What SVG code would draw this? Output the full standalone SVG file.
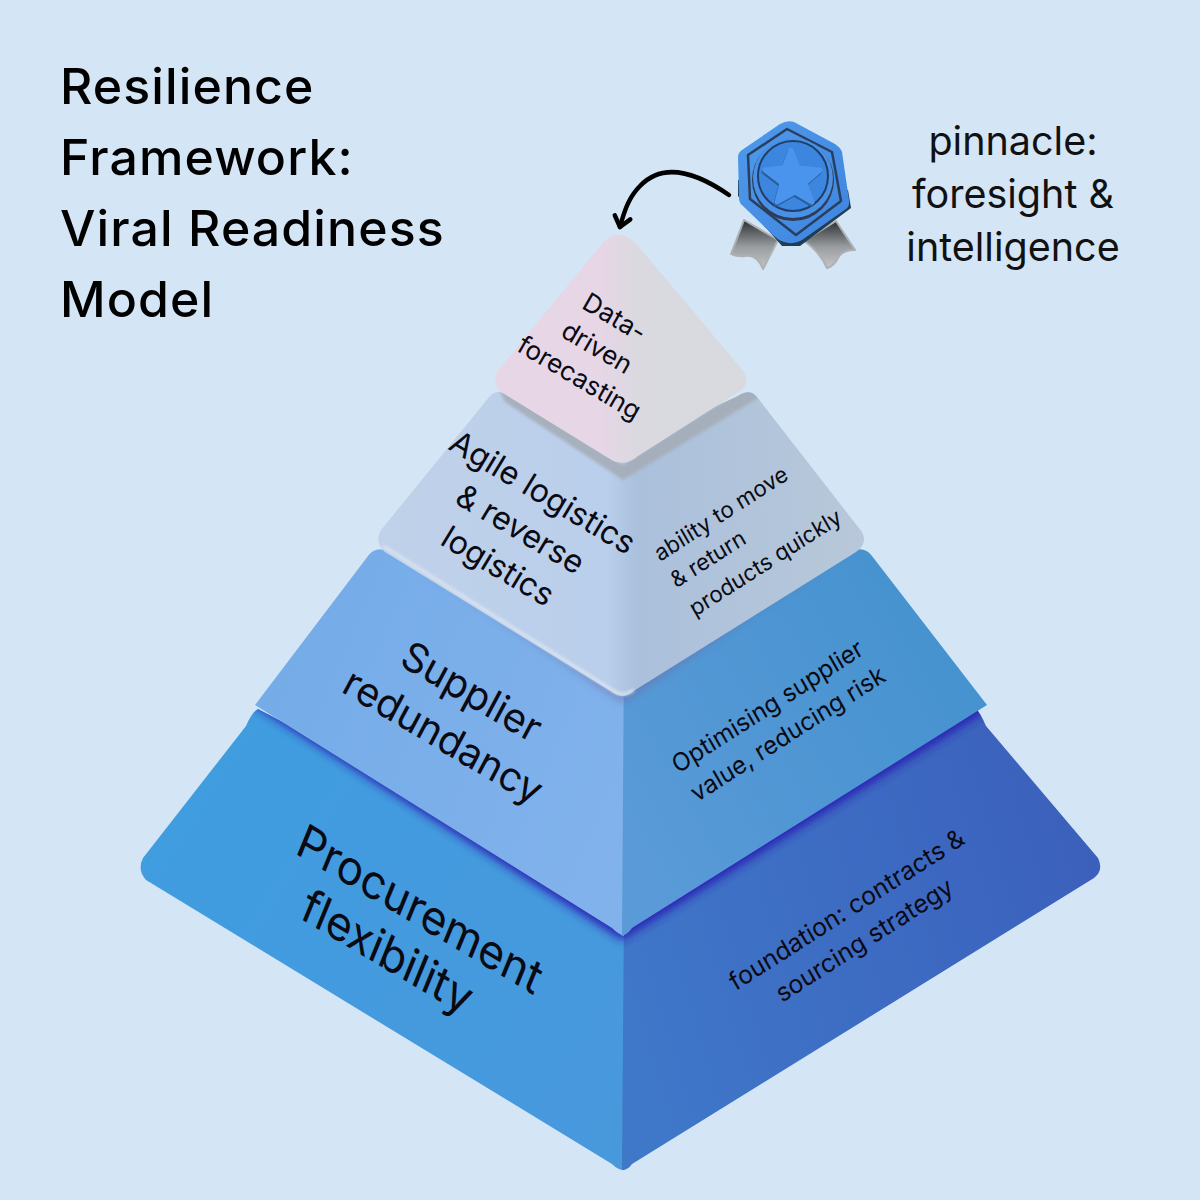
<svg xmlns="http://www.w3.org/2000/svg" width="1200" height="1200" viewBox="0 0 1200 1200">
<style>
text{font-family:"Inter","Liberation Sans",sans-serif;fill:#0a0a14}
.t{font-size:50px;font-weight:500;fill:#000;letter-spacing:1.1px}
.p{font-size:39.5px;text-anchor:middle;fill:#111}
.m{text-anchor:middle}
.edge{fill:none;stroke:#000;stroke-width:4.5;stroke-linecap:round;stroke-linejoin:round}
</style>
<defs>
<linearGradient id="l1L" gradientUnits="userSpaceOnUse" x1="141" y1="800" x2="625" y2="1100"><stop offset="0" stop-color="#3f9de0"/><stop offset="1" stop-color="#4898dc"/></linearGradient>
<linearGradient id="l1R" gradientUnits="userSpaceOnUse" x1="625" y1="1000" x2="1100" y2="860"><stop offset="0" stop-color="#3f77c9"/><stop offset="1" stop-color="#3b60bc"/></linearGradient>
<linearGradient id="l3L" gradientUnits="userSpaceOnUse" x1="255" y1="680" x2="625" y2="840"><stop offset="0" stop-color="#74ace8"/><stop offset="1" stop-color="#82b2ec"/></linearGradient>
<linearGradient id="l3R" gradientUnits="userSpaceOnUse" x1="625" y1="850" x2="985" y2="650"><stop offset="0" stop-color="#5a9ad8"/><stop offset="1" stop-color="#4492cf"/></linearGradient>
<linearGradient id="l2" gradientUnits="userSpaceOnUse" x1="378" y1="0" x2="865" y2="0"><stop offset="0" stop-color="#c0d1e9"/><stop offset=".47" stop-color="#bacfec"/><stop offset=".53" stop-color="#abc0dc"/><stop offset="1" stop-color="#b8c8d9"/></linearGradient>
<linearGradient id="l4" gradientUnits="userSpaceOnUse" x1="495" y1="0" x2="747" y2="0"><stop offset="0" stop-color="#e8d6e6"/><stop offset=".42" stop-color="#e6d6e6"/><stop offset=".58" stop-color="#d9d9df"/><stop offset="1" stop-color="#d8dade"/></linearGradient>
<linearGradient id="rib" x1="0" y1="0" x2="0" y2="1"><stop offset="0" stop-color="#2c2f33"/><stop offset="0.55" stop-color="#9a9da0"/><stop offset="1" stop-color="#c4c6c8"/></linearGradient>
<linearGradient id="hex" x1="0" y1="0" x2="1" y2="1"><stop offset="0" stop-color="#4f9aea"/><stop offset="1" stop-color="#3f84e0"/></linearGradient>
<filter id="b6" x="-10%" y="-10%" width="120%" height="120%"><feGaussianBlur stdDeviation="5"/></filter>
<filter id="b1" x="-10%" y="-10%" width="120%" height="120%"><feGaussianBlur stdDeviation="1.5"/></filter>
<clipPath id="c1"><path d="M246,726 Q252,712 258,709 L624,900 L975,708 Q980,712 986,726 L1098,858 Q1104,870 1094,878 L632,1164 Q622,1174 612,1164 L146,880 Q137,870 143,858 Z"/></clipPath>
<clipPath id="c3"><path d="M255,705 L368,556 Q376,545 390,552 L620,650 L850,552 Q864,545 872,556 L987,705 L632,928 Q622,938 612,928 Z"/></clipPath>
<clipPath id="c2"><path d="M381,530 L490,396 Q497,388 510,396 L622,450 L738,396 Q750,388 757,397 L862,532 Q868,544 856,552 L632,692 Q623,700 612,692 L385,552 Q374,542 381,530 Z"/></clipPath>
<marker id="hd" markerUnits="userSpaceOnUse" markerWidth="24" markerHeight="24" refX="13" refY="12" orient="auto"><path d="M3,4 L13,12 L3,20" fill="none" stroke="#000" stroke-width="4.5" stroke-linecap="round" stroke-linejoin="round"/></marker>
</defs>
<rect width="1200" height="1200" fill="#d4e5f5"/>

<g id="title"><text class="t" x="60" y="104">Resilience</text><text class="t" x="60" y="175">Framework:</text><text class="t" x="60" y="246">Viral Readiness</text><text class="t" x="60" y="317">Model</text></g>

<g id="layer-procurement">
<path fill="url(#l1L)" d="M246,726 Q252,712 258,709 L624,900 L624,1170 Q618,1170 612,1164 L146,880 Q137,870 143,858 Z"/>
<path fill="url(#l1R)" d="M624,900 L975,708 Q980,712 986,726 L1098,858 Q1104,870 1094,878 L632,1164 Q628,1170 622,1170 Z"/>
<g clip-path="url(#c1)"><path fill="#2a22b4" filter="url(#b6)" d="M255,706 L622,940 L985,712 L985,690 L255,690 Z"/></g>
<g transform="matrix(.86 .51 -.38 .925 414 924)"><text class="m" font-size="46">Procurement</text><text class="m" font-size="46" x="-14" y="54">flexibility</text></g>
<g transform="matrix(.84 -.54 .5 .87 851 917)"><text class="m" font-size="25">foundation: contracts &amp;</text><text class="m" font-size="25" y="35">sourcing strategy</text></g>
</g>

<g id="layer-supplier">
<path fill="url(#l3L)" d="M255,705 L368,556 Q376,545 390,552 L624,650 L624,936 Q618,934 612,928 Z"/>
<path fill="url(#l3R)" d="M624,650 L850,552 Q864,545 872,556 L987,705 L632,928 Q628,934 622,936 Z"/>
<g clip-path="url(#c3)"><path fill="#6d6fa8" opacity=".7" filter="url(#b6)" d="M381,538 L623,702 L862,538 L862,520 L381,520 Z"/></g>
<g transform="matrix(.86 .51 -.47 .88 465 704)"><text class="m" font-size="40">Supplier</text><text class="m" font-size="40" x="-4" y="53">redundancy</text></g>
<g transform="matrix(.84 -.54 .5 .87 678 774)"><text font-size="24.5">Optimising supplier</text><text font-size="24.5" x="2" y="34">value, reducing risk</text></g>
</g>

<g id="layer-agile">
<path fill="url(#l2)" d="M381,530 L490,396 Q497,388 510,396 L622,450 L738,396 Q750,388 757,397 L862,532 Q868,544 856,552 L632,692 Q623,700 612,692 L385,552 Q374,542 381,530 Z"/>
<path fill="none" stroke="#e6ecf3" stroke-width="3" opacity=".75" filter="url(#b1)" d="M383,546 L612,690 Q623,698 634,690"/>
<g clip-path="url(#c2)"><path fill="#a4abb5" opacity=".85" filter="url(#b1)" d="M497,384 L623,465 L750,384 L758,398 L623,480 L505,402 Z"/></g>
<g transform="matrix(.86 .51 -.52 .855 537 502)"><text class="m" font-size="32">Agile logistics</text><text class="m" font-size="32" y="43">&amp; reverse</text><text class="m" font-size="32" y="86">logistics</text></g>
<g transform="matrix(.84 -.54 .5 .87 660 562)"><text font-size="22.5">ability to move</text><text font-size="22.5" x="1" y="31">&amp; return</text><text font-size="22.5" x="3" y="65">products quickly</text></g>
</g>

<g id="layer-forecasting">
<path fill="url(#l4)" d="M497,372 L600,246 Q618,222 640,248 L744,372 Q750,384 740,391 L638,456 Q624,468 610,459 L501,392 Q492,384 497,372 Z"/>
<g transform="matrix(.86 .51 -.5 .866 610 325)"><text class="m" font-size="26">Data-</text><text class="m" font-size="26" y="35">driven</text><text class="m" font-size="26" y="70">forecasting</text></g>
</g>

<g id="connectors"><path class="edge" marker-end="url(#hd)" d="M729,195 C690,168 660,165 640,186 C630,196 625,208 620,227"/></g>

<g id="badge">
<path fill="url(#rib)" stroke="#aeb1b4" stroke-width="2" stroke-linejoin="round" d="M744,220 L778,240 L763,269 Q757,254 745,256 Q738,257 731,254 Z"/>
<path fill="url(#rib)" stroke="#aeb1b4" stroke-width="2" stroke-linejoin="round" d="M836,221 L855,250 Q842,250 838,258 Q834,266 827,268 Q820,252 804,241 Z"/>
<path fill="#1f3d55" d="M738,196 L782,246 L800,246 L851,208 L848,190 L738,180 Z"/>
<path fill="url(#hex)" d="M738,157 Q738,153 742,150 L780,124 Q787,120 794,122 L835,144 Q840,147 842,152 L849,200 Q850,206 846,209 L802,240 Q794,245 784,242 Q778,240 774,236 L743,206 Q739,203 739,198 Z"/>
<path fill="none" stroke="#2a3f5f" stroke-width="2.5" stroke-linejoin="round" d="M748,155 L787,129 L832,152 L841,201 L796,235 L750,199 Z"/>
<circle cx="793" cy="180" r="41" fill="#2d3c52"/>
<circle cx="793" cy="178" r="40" fill="#4a90e6"/>
<circle cx="793" cy="176" r="35" fill="#3d86df" stroke="#1f3f66" stroke-width="2"/>
<path fill="#2a5f9f" stroke="#2a5f9f" stroke-width="5" stroke-linejoin="round" transform="translate(-1 2)" d="M791,150 L798,168 L820,170 L805,183 L812,202 L795,192 L777,202 L782,183 L765,170 L784,168 Z"/>
<path fill="#4a94ee" stroke="#4a94ee" stroke-width="5" stroke-linejoin="round" d="M791,150 L798,168 L820,170 L805,183 L812,202 L795,192 L777,202 L782,183 L765,170 L784,168 Z"/>
</g>

<g id="caption"><text class="p" x="1013" y="155">pinnacle:</text><text class="p" x="1013" y="208">foresight &amp;</text><text class="p" x="1013" y="261">intelligence</text></g>
</svg>
